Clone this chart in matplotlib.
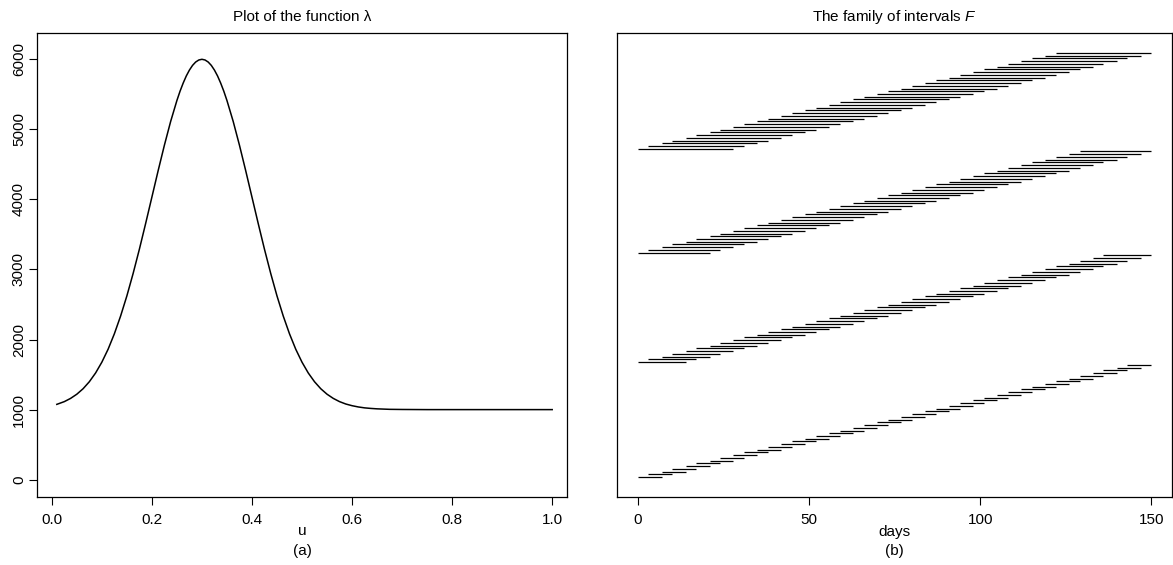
import numpy as np
import matplotlib
matplotlib.use("Agg")
import matplotlib.pyplot as plt

plt.rcParams['font.family'] = ['Liberation Sans', 'DejaVu Sans']
plt.rcParams['mathtext.fontset'] = 'custom'
plt.rcParams['mathtext.it'] = 'Liberation Sans:italic'
plt.rcParams['mathtext.rm'] = 'Liberation Sans'

# panel (a): lambda(u)
u_vals = [0.01, 0.025, 0.0375, 0.05, 0.0625, 0.075, 0.0875, 0.1, 0.1125, 0.125,
          0.1375, 0.15, 0.1625, 0.175, 0.1875, 0.2, 0.2125, 0.225, 0.2375, 0.25,
          0.25625, 0.2625, 0.26875, 0.275, 0.28125, 0.2875, 0.29375, 0.3,
          0.30625, 0.3125, 0.31875, 0.325, 0.33125, 0.3375, 0.34375, 0.35,
          0.3625, 0.375, 0.3875, 0.4, 0.4125, 0.425, 0.4375, 0.45, 0.4625,
          0.475, 0.4875, 0.5, 0.5125, 0.525, 0.5375, 0.55, 0.5625, 0.575,
          0.5875, 0.6, 0.6125, 0.625, 0.6375, 0.65, 0.675, 0.7, 0.75, 0.8,
          0.9, 1.0]
lam_vals = [1075, 1114, 1160, 1220, 1298, 1398, 1523, 1677, 1862, 2082,
            2336, 2623, 2943, 3289, 3656, 4033, 4410, 4774, 5113, 5412,
            5544, 5660, 5762, 5846, 5913, 5961, 5990, 6000,
            5990, 5961, 5913, 5846, 5762, 5660, 5544, 5412,
            5113, 4774, 4410, 4033, 3656, 3289, 2943, 2623, 2336,
            2082, 1862, 1677, 1523, 1398, 1298, 1220, 1160, 1114,
            1080, 1056, 1038, 1025, 1017, 1011, 1004, 1002, 1000, 1000,
            1000, 1000]

# panel (b): interval start days and lengths (one family per length)
starts = [0, 3, 7, 10, 14, 17, 21, 24, 28, 31, 35, 38, 42, 45, 49, 52, 56, 59,
          63, 66, 70, 73, 77, 80, 84, 87, 91, 94, 98, 101, 105, 108, 112, 115,
          119, 122, 126, 129, 133, 136, 140, 143]
lengths = [7, 14, 21, 28]
last_day = 150

fig = plt.figure(figsize=(11.73, 5.65), dpi=100)
W, H = 1173.0, 565.0
fs = 11

def tidy(ax):
    for s in ax.spines.values():
        s.set_linewidth(0.9)
    ax.tick_params(direction='out', length=5.5, width=0.8,
                   labelsize=fs, colors='black')
    ax.tick_params(axis='x', pad=6)
    ax.tick_params(axis='y', pad=2.5)

# left panel
ax1 = fig.add_axes([37 / W, 1 - 496.7 / H, 530 / W, 463.4 / H])
ax1.plot(u_vals, lam_vals, color='black', lw=1.1)
ax1.set_xlim(-0.0296, 1.0296)
ax1.set_ylim(-243, 6371)
ax1.set_xticks([0.0, 0.2, 0.4, 0.6, 0.8, 1.0])
ax1.set_xticklabels(['0.0', '0.2', '0.4', '0.6', '0.8', '1.0'])
ax1.set_yticks(range(0, 7000, 1000))
for lab in ax1.get_yticklabels():
    lab.set_rotation(90)
    lab.set_va('center')
tidy(ax1)
ax1.set_title('Plot of the function λ', fontsize=fs, pad=9)

# right panel
ax2 = fig.add_axes([617 / W, 1 - 496.7 / H, 555 / W, 463.4 / H])
idx = 1
for L in lengths:
    s = np.array([d for d in starts if d + L <= last_day])
    ys = np.arange(idx, idx + len(s))
    ax2.hlines(ys, s, s + L, color='black', lw=0.9)
    idx += len(s)
n_tot = idx - 1
ax2.set_ylim(1 - 7.2, n_tot + 7.2)
ax2.set_xlim(-6, 156)
ax2.set_xticks([0, 50, 100, 150])
ax2.set_yticks([])
tidy(ax2)
ax2.set_title('The family of intervals $F$', fontsize=fs, pad=9)

fig.text((37 + 265) / W, 1 - 531 / H, 'u', ha='center', va='center', fontsize=fs)
fig.text((617 + 277) / W, 1 - 532 / H, 'days', ha='center', va='center', fontsize=fs)
fig.text((37 + 265) / W, 1 - 551 / H, '(a)', ha='center', va='center', fontsize=fs)
fig.text((617 + 277) / W, 1 - 551 / H, '(b)', ha='center', va='center', fontsize=fs)

fig.savefig('out.png', dpi=100)
